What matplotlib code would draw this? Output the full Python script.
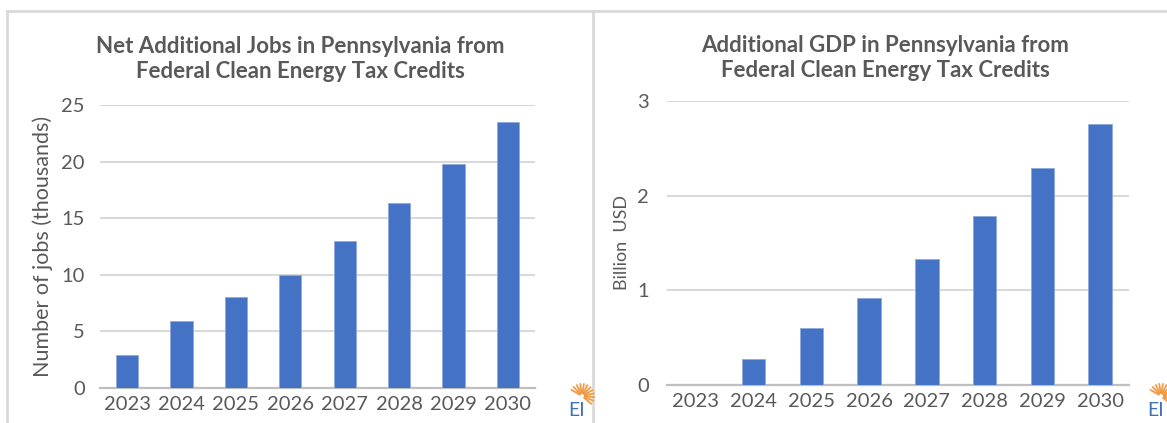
import numpy as np
import matplotlib.pyplot as plt
from matplotlib.lines import Line2D

# data
years = ['2023', '2024', '2025', '2026', '2027', '2028', '2029', '2030']
jobs_k = [2.9, 5.9, 8.0, 10.0, 13.0, 16.3, 19.8, 23.5]
gdp_bn = [0.0, 0.27, 0.60, 0.92, 1.33, 1.79, 2.29, 2.76]
jobs_ticks = [0, 5, 10, 15, 20, 25]
gdp_ticks = [0, 1, 2, 3]

W, H = 1167, 423
BLUE = '#4472C4'
GREY = '#595959'
GRID = '#d9d9d9'

plt.rcParams['font.family'] = ['Lato', 'DejaVu Sans']

fig = plt.figure(figsize=(W / 100, H / 100), dpi=100)


def px(x, y):
    # pixel position (from top-left) -> figure fraction
    return x / W, 1 - y / H


def axes_box(x0, y0, x1, y1):
    a, b = px(x0, y1)
    c, d = px(x1, y0)
    return [a, b, c - a, d - b]


ax1 = fig.add_axes(axes_box(100, 105, 535, 388))
ax2 = fig.add_axes(axes_box(667, 101, 1129, 385))

for ax, vals, ticks, pad in [(ax1, jobs_k, jobs_ticks, 11), (ax2, gdp_bn, gdp_ticks, 13)]:
    x = np.arange(len(years))
    ax.bar(x, vals, width=0.41, color=BLUE, edgecolor='#8eaadb', linewidth=0.6, zorder=3)
    ax.set_xlim(-0.5, len(years) - 0.5)
    ax.set_ylim(0, ticks[-1])
    ax.set_yticks(ticks)
    ax.set_xticks(x)
    ax.set_xticklabels(years)
    ax.yaxis.grid(True, color=GRID, linewidth=1.5, zorder=0)
    ax.set_axisbelow(True)
    for s in ['top', 'right', 'left']:
        ax.spines[s].set_visible(False)
    ax.spines['bottom'].set_color('#bfbfbf')
    ax.spines['bottom'].set_linewidth(1.6)
    ax.tick_params(axis='y', length=0, pad=pad, labelsize=14.5, labelcolor=GREY)
    ax.tick_params(axis='x', length=0, pad=6, labelsize=14.5, labelcolor=GREY)

ax1.set_ylabel('Number of jobs (thousands)', fontsize=15.5, color=GREY, labelpad=6)
ax2.set_ylabel('Billion  USD', fontsize=13, color=GREY, labelpad=5)

# titles
fig.text(*px(300, 59), 'Net Additional Jobs in Pennsylvania from\nFederal Clean Energy Tax Credits',
         ha='center', va='center', fontsize=16, fontweight='bold', color=GREY, linespacing=1.25)
fig.text(*px(885, 58), 'Additional GDP in Pennsylvania from\nFederal Clean Energy Tax Credits',
         ha='center', va='center', fontsize=16, fontweight='bold', color=GREY, linespacing=1.2)

# panel frames
frame = dict(color=GRID, linewidth=2, transform=fig.transFigure)
fig.add_artist(Line2D([px(7, 0)[0], 1], [px(0, 11)[1]] * 2, **frame))
fig.add_artist(Line2D([px(7, 0)[0]] * 2, [0, px(0, 11)[1]], **frame))
fig.add_artist(Line2D([px(593, 0)[0]] * 2, [0, px(0, 11)[1]], **frame))


# little EI sunburst logos
def logo(cx, cy):
    for ang in np.linspace(-40, 150, 12):
        t = np.deg2rad(ang)
        x0, y0 = cx + 3 * np.cos(t), cy - 3 * np.sin(t)
        x1, y1 = cx + 12 * np.cos(t), cy - 12 * np.sin(t)
        a, b = px(x0, y0)
        c, d = px(x1, y1)
        fig.add_artist(Line2D([a, c], [b, d], color='#f29b45', linewidth=1.3,
                              transform=fig.transFigure))
    fig.text(*px(cx - 5, cy + 14), 'EI', ha='center', va='center', fontsize=14,
             color='#3f72b5')


logo(582, 396)
logo(1161, 396)

fig.savefig('out.png', dpi=100)
